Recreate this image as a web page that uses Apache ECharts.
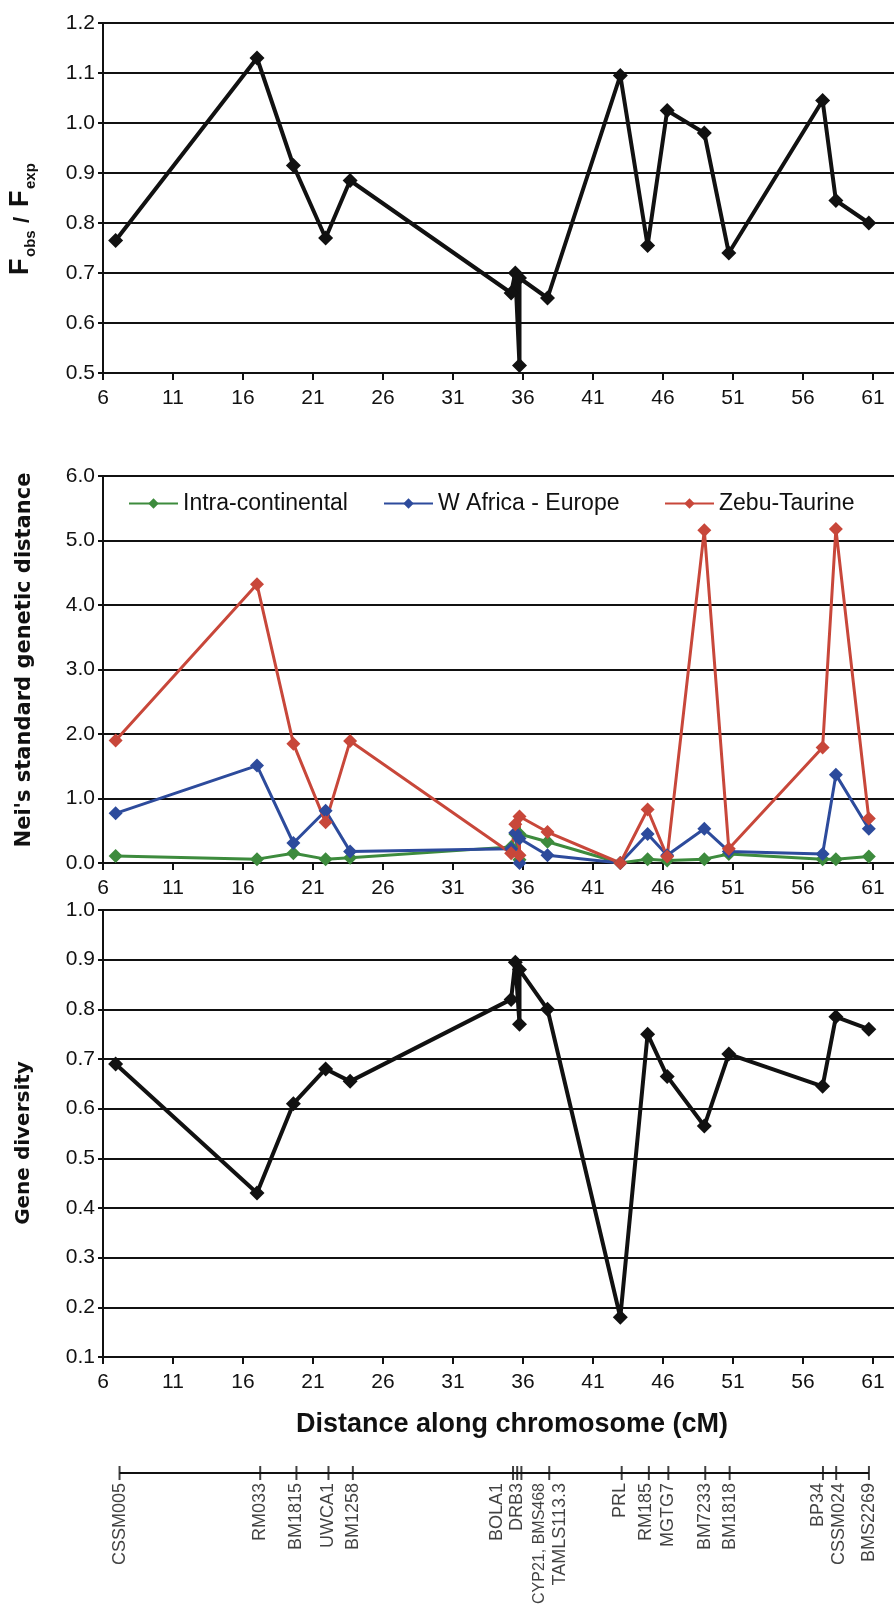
<!DOCTYPE html>
<html>
<head>
<meta charset="utf-8">
<title>Chromosome marker statistics</title>
<script src="https://cdn.jsdelivr.net/npm/echarts@6/dist/echarts.min.js"></script>
<style>
  html, body { margin: 0; padding: 0; background: #ffffff; }
  #chart { width: 894px; height: 1605px; }
</style>
</head>
<body>
<div id="chart"></div>
<script>
// Loci along the chromosome and their map positions (cM)
const loci = ['CSSM005', 'RM033', 'BM1815', 'UWCA1', 'BM1258', 'BOLA1', 'DRB3', 'CYP21', 'BMS468',
  'TAMLS113.3', 'PRL', 'RM185', 'MGTG7', 'BM7233', 'BM1818', 'BP34', 'CSSM024', 'BMS2269'];
const lociCM = [6.9, 17.0, 19.6, 21.9, 23.65, 35.15, 35.45, 35.75, 35.75,
  37.75, 42.95, 44.9, 46.3, 48.95, 50.7, 57.4, 58.35, 60.7];

// Fobs / Fexp per locus
const fRatio = [0.765, 1.13, 0.915, 0.77, 0.885, 0.66, 0.70, 0.515, 0.69,
  0.65, 1.095, 0.755, 1.025, 0.98, 0.74, 1.045, 0.845, 0.80];

// Nei's standard genetic distance per locus, three comparisons
const intraContinental = [0.11, 0.06, 0.15, 0.06, 0.08, 0.25, 0.45, 0.05, 0.45,
  0.33, 0.0, 0.06, 0.04, 0.06, 0.14, 0.06, 0.06, 0.10];
const wAfricaEurope = [0.77, 1.51, 0.31, 0.81, 0.18, 0.22, 0.47, 0.0, 0.38,
  0.12, 0.0, 0.45, 0.12, 0.53, 0.18, 0.14, 1.37, 0.53];
const zebuTaurine = [1.9, 4.32, 1.85, 0.63, 1.89, 0.15, 0.60, 0.12, 0.72,
  0.48, 0.0, 0.83, 0.10, 5.16, 0.22, 1.79, 5.18, 0.69];

// Gene diversity per locus
const geneDiversity = [0.69, 0.43, 0.61, 0.68, 0.655, 0.82, 0.895, 0.77, 0.88,
  0.80, 0.18, 0.75, 0.665, 0.565, 0.71, 0.645, 0.785, 0.76];

// Legend names
const seriesNames = ['Intra-continental', 'W Africa - Europe', 'Zebu-Taurine'];

const INK = '#111111';
const FONT = '"Liberation Sans", Arial, sans-serif';
const COLOURS = ['#3d8b3d', '#2d4b9c', '#c8473a'];

const pairs = vals => lociCM.map((x, i) => [x, vals[i]]);

// Map ticks: loci sharing a position get one tick and a joined label
const mapMarks = [];
loci.forEach((name, i) => {
  const last = mapMarks[mapMarks.length - 1];
  if (last && last.value[0] === lociCM[i]) last.name += ', ' + name;
  else mapMarks.push({ name, value: [lociCM[i], 0] });
});
// sideways nudges (px) so crowded labels sit side by side
const labelNudge = { 'BOLA1': -16, 'CYP21, BMS468': 18, 'TAMLS113.3': 11, 'PRL': -2,
  'RM185': -3, 'BP34': -5, 'CSSM024': 3 };
mapMarks.forEach(m => {
  // rotated labels: the second offset component runs across the page
  m.label = { offset: [0, labelNudge[m.name] || 0] };
});

function xAxis(gridIndex) {
  return {
    type: 'value', gridIndex, min: 6, max: 62.5, interval: 5,
    axisLine: { show: true, onZero: false, lineStyle: { color: INK, width: 2 } },
    axisTick: { show: true, length: 7, lineStyle: { color: INK, width: 2 } },
    axisLabel: {
      fontSize: 21, fontFamily: FONT, color: INK, margin: 15, showMaxLabel: false,
      formatter: v => (Math.abs((v - 6) % 5) < 1e-6 ? String(v) : '')
    },
    splitLine: { show: false }
  };
}

function yAxis(gridIndex, min, max, interval) {
  return {
    type: 'value', gridIndex, min, max, interval,
    axisLine: { show: true, lineStyle: { color: INK, width: 2 } },
    axisTick: { show: true, length: 5, lineStyle: { color: INK, width: 2 } },
    axisLabel: { fontSize: 21, fontFamily: FONT, color: INK, margin: 8, formatter: v => v.toFixed(1) },
    splitLine: { show: true, lineStyle: { color: INK, width: 2 } }
  };
}

function blackLine(gridIndex, vals) {
  return {
    type: 'line', xAxisIndex: gridIndex, yAxisIndex: gridIndex, data: pairs(vals),
    symbol: 'diamond', symbolSize: 15, showAllSymbol: true,
    lineStyle: { color: INK, width: 4 }, itemStyle: { color: INK },
    emphasis: { disabled: true }, animation: false
  };
}

function colourLine(k, vals) {
  return {
    type: 'line', name: seriesNames[k], xAxisIndex: 1, yAxisIndex: 1, data: pairs(vals),
    symbol: 'diamond', symbolSize: 14, showAllSymbol: true,
    lineStyle: { color: COLOURS[k], width: 3 }, itemStyle: { color: COLOURS[k] },
    emphasis: { disabled: true }, animation: false
  };
}

function legendItem(k, left) {
  return {
    data: [seriesNames[k]], left, top: 492, padding: 0,
    itemWidth: 49, itemHeight: 13,
    textStyle: { fontSize: 23, fontFamily: FONT, color: INK }
  };
}

const chart = echarts.init(document.getElementById('chart'), null, { renderer: 'canvas' });

chart.setOption({
  backgroundColor: '#ffffff',
  animation: false,
  grid: [
    { left: 103, width: 791, top: 23, height: 350 },
    { left: 103, width: 791, top: 476, height: 387 },
    { left: 103, width: 791, top: 910, height: 447 },
    { left: 107, width: 794, top: 1472, height: 1 }
  ],
  xAxis: [xAxis(0), xAxis(1), xAxis(2),
    { type: 'value', gridIndex: 3, min: 6, max: 62.5, show: false }],
  yAxis: [yAxis(0, 0.5, 1.2, 0.1), yAxis(1, 0, 6, 1), yAxis(2, 0.1, 1.0, 0.1),
    { type: 'value', gridIndex: 3, min: 0, max: 1, show: false }],
  legend: [legendItem(0, 128), legendItem(1, 383), legendItem(2, 664)],
  series: [
    blackLine(0, fRatio),
    colourLine(0, intraContinental),
    colourLine(1, wAfricaEurope),
    colourLine(2, zebuTaurine),
    blackLine(2, geneDiversity),
    // marker map: baseline
    {
      type: 'line', xAxisIndex: 3, yAxisIndex: 3, symbol: 'none',
      data: [[lociCM[0], 0], [lociCM[lociCM.length - 1], 0]],
      lineStyle: { color: INK, width: 2 }, emphasis: { disabled: true }, silent: true
    },
    // marker map: ticks and rotated names
    {
      type: 'scatter', xAxisIndex: 3, yAxisIndex: 3, data: mapMarks,
      symbol: 'rect', symbolSize: [2, 14], itemStyle: { color: INK },
      label: {
        show: true, position: 'bottom', distance: 3, rotate: 90,
        align: 'right', verticalAlign: 'middle',
        // the joined label is long, so it is set a little smaller to stay on the page
        formatter: p => (p.name.indexOf(',') >= 0 ? '{s|' + p.name + '}' : p.name),
        rich: { s: { fontSize: 16, fontFamily: FONT, color: INK } },
        fontSize: 18, fontFamily: FONT, color: INK
      },
      emphasis: { disabled: true }, silent: true
    }
  ],
  graphic: [
    {
      type: 'group', x: 24, y: 220, rotation: Math.PI / 2,
      children: [
        { type: 'text', x: -55, y: 10, style: { text: 'F', font: 'bold 27px ' + FONT, fill: INK, verticalAlign: 'bottom' } },
        { type: 'text', x: -37, y: 14, style: { text: 'obs', font: 'bold 15px ' + FONT, fill: INK, verticalAlign: 'bottom' } },
        { type: 'text', x: -3, y: 10, style: { text: '/', font: 'bold 22px ' + FONT, fill: INK, verticalAlign: 'bottom' } },
        { type: 'text', x: 13, y: 10, style: { text: 'F', font: 'bold 27px ' + FONT, fill: INK, verticalAlign: 'bottom' } },
        { type: 'text', x: 31, y: 14, style: { text: 'exp', font: 'bold 15px ' + FONT, fill: INK, verticalAlign: 'bottom' } }
      ]
    },
    {
      type: 'text', x: 25, y: 660, rotation: Math.PI / 2,
      style: { text: "Nei's standard genetic distance", font: 'bold 21px "DejaVu Sans", sans-serif',
        fill: INK, align: 'center', verticalAlign: 'middle' }
    },
    {
      type: 'text', x: 24, y: 1143, rotation: Math.PI / 2,
      style: { text: 'Gene diversity', font: 'bold 20px "DejaVu Sans", sans-serif',
        fill: INK, align: 'center', verticalAlign: 'middle' }
    },
    {
      type: 'text', x: 512, y: 1425,
      style: { text: 'Distance along chromosome (cM)', font: 'bold 27px ' + FONT,
        fill: INK, align: 'center', verticalAlign: 'middle' }
    }
  ]
});
</script>
</body>
</html>
